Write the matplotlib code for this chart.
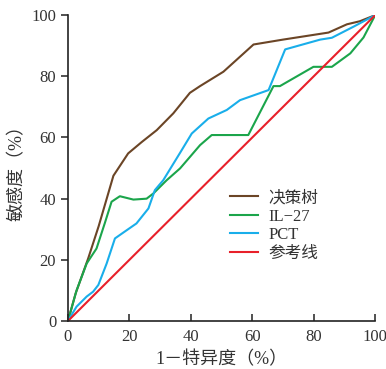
import matplotlib.pyplot as plt

plt.rcParams['font.family'] = ['Liberation Serif', 'Noto Sans CJK SC']

# ROC curves, values (1-specificity %, sensitivity %)
tree_x = [0, 2.5, 6.6, 10, 14.8, 19.6, 24, 28.9, 34.3, 39.7, 43, 50.6, 60.4, 70, 84.8, 90.8, 95, 100]
tree_y = [0, 9, 20.5, 31, 47.5, 54.8, 58.5, 62.4, 67.9, 74.6, 76.8, 81.5, 90.4, 92, 94.3, 97, 98, 100]

il27_x = [0, 2.8, 6.1, 7.2, 9.3, 12, 14.2, 16.9, 21.3, 25.6, 27.8, 32.1, 36.5, 43, 46.8, 58.7, 66.9, 69, 79.9, 85.9, 91.9, 96.2, 100]
il27_y = [0, 10, 18.8, 20.5, 23.7, 32, 39, 40.8, 39.7, 40, 41.7, 46, 49.9, 57.5, 60.8, 60.8, 76.8, 76.8, 83.1, 83.1, 87.5, 92.7, 100]

pct_x = [0, 2.8, 6.1, 8.2, 9.9, 12.6, 15.3, 18, 22.3, 26.2, 28.3, 31, 36.5, 40.3, 45.7, 51.7, 56, 65.3, 70.7, 82.1, 85.9, 92.9, 100]
pct_y = [0, 4.7, 8, 9.6, 11.8, 18.8, 27, 28.9, 31.9, 36.8, 42.8, 46, 55, 61.3, 66.2, 69, 72.2, 75.5, 88.8, 92, 92.6, 96.2, 100]

ref_x = [0, 100]
ref_y = [0, 100]

labels = ['决策树', 'IL\u221227', 'PCT', '参考线']
colors = ['#6B4526', '#1BA54B', '#19AEEA', '#E8202A']

fig = plt.figure(figsize=(3.86, 3.69), dpi=100)
ax = fig.add_axes([0.176, 0.130, 0.796, 0.829])

series = [(tree_x, tree_y), (il27_x, il27_y), (pct_x, pct_y), (ref_x, ref_y)]
for (xs, ys), lab, c in zip(series, labels, colors):
    ax.plot(xs, ys, color=c, lw=1.5, label=lab)

ax.set_xlim(0, 100)
ax.set_ylim(0, 100)
ax.set_xticks([0, 20, 40, 60, 80, 100])
ax.set_yticks([0, 20, 40, 60, 80, 100])
ax.spines['top'].set_visible(False)
ax.spines['right'].set_visible(False)
for s in ['left', 'bottom']:
    ax.spines[s].set_color('#222222')
    ax.spines[s].set_linewidth(1.2)
ax.tick_params(axis='x', direction='in', length=5, width=1.2, labelsize=12, colors='#333333', pad=6)
ax.tick_params(axis='y', direction='out', length=5, width=1.2, labelsize=12, colors='#333333')
ax.set_xlabel('1－特异度（%）', fontsize=13, color='#333333', labelpad=4)
ax.set_ylabel('敏感度（%）', fontsize=13, color='#333333', labelpad=4)

ax.legend(loc='upper left', bbox_to_anchor=(0.505, 0.45), frameon=False, fontsize=12,
          handlelength=1.7, handletextpad=0.6, labelspacing=0.15, borderaxespad=0,
          labelcolor='#333333')

fig.savefig('out.png', dpi=100)
